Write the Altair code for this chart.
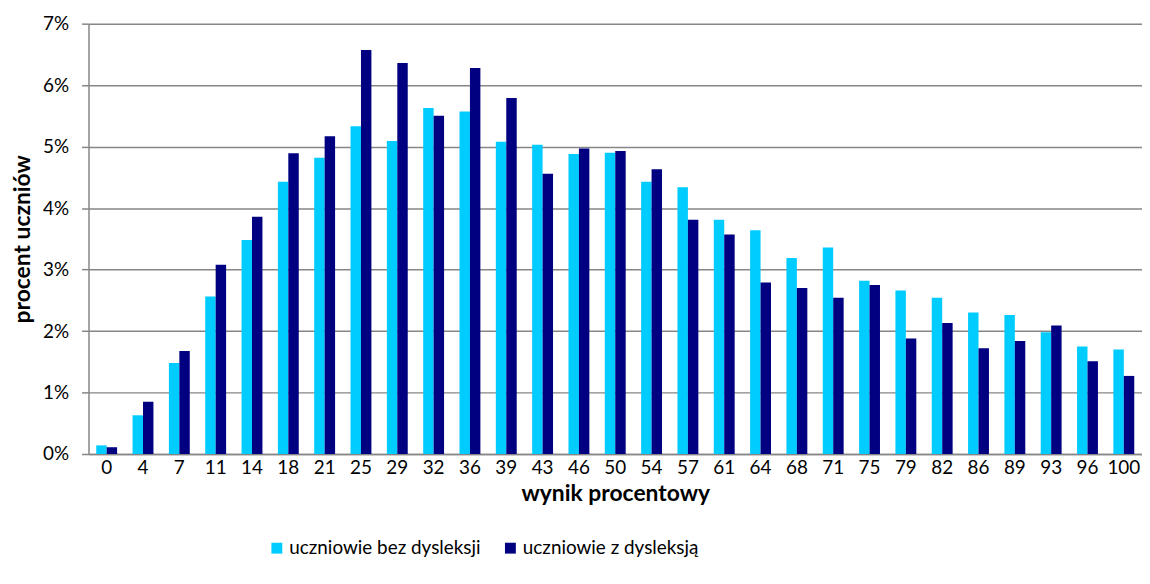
import altair as alt
import pandas as pd

categories = ["0", "4", "7", "11", "14", "18", "21", "25", "29", "32", "36", "39", "43", "46", "50",
              "54", "57", "61", "64", "68", "71", "75", "79", "82", "86", "89", "93", "96", "100"]
bez_dysleksji = [0.14, 0.63, 1.48, 2.56, 3.48, 4.43, 4.82, 5.33, 5.09, 5.63, 5.57, 5.08, 5.03, 4.88, 4.90,
                 4.43, 4.34, 3.81, 3.64, 3.19, 3.36, 2.82, 2.66, 2.54, 2.30, 2.26, 1.98, 1.75, 1.70]
z_dysleksja = [0.11, 0.85, 1.675, 3.08, 3.86, 4.89, 5.17, 6.57, 6.36, 5.50, 6.28, 5.79, 4.56, 4.97, 4.93,
               4.63, 3.81, 3.57, 2.79, 2.70, 2.54, 2.75, 1.88, 2.13, 1.72, 1.84, 2.09, 1.51, 1.27]
series_names = ["uczniowie bez dysleksji", "uczniowie z dysleksją"]
series_colors = ["#00CCFF", "#000080"]
y_ticks = [0, 0.01, 0.02, 0.03, 0.04, 0.05, 0.06, 0.07]

rows = []
for c, a, b in zip(categories, bez_dysleksji, z_dysleksja):
    rows.append({"wynik": c, "seria": series_names[0], "wartosc": a / 100})
    rows.append({"wynik": c, "seria": series_names[1], "wartosc": b / 100})
df = pd.DataFrame(rows)

FONT = "Lato"
GRID = "#868686"

chart = alt.Chart(df).mark_bar().encode(
    x=alt.X("wynik:N", sort=categories,
            scale=alt.Scale(paddingInner=0.425, paddingOuter=0.213),
            axis=alt.Axis(title="wynik procentowy", labelAngle=0, ticks=False,
                          domainColor=GRID, domainWidth=1.5, labelPadding=5,
                          labelFontSize=19, labelColor="#000000", labelFont=FONT,
                          titleFont=FONT, titleFontSize=23, titleFontWeight="bold",
                          titleColor="#000000", titlePadding=5)),
    xOffset=alt.XOffset("seria:N", sort=series_names, scale=alt.Scale(paddingInner=0, paddingOuter=0)),
    y=alt.Y("wartosc:Q",
            scale=alt.Scale(domain=[0, 0.07], nice=False),
            axis=alt.Axis(title="procent uczniów", values=y_ticks, format=".0%",
                          grid=True, gridColor=GRID, gridWidth=1.5,
                          domainColor=GRID, domainWidth=1.5, tickColor=GRID, tickSize=7,
                          tickWidth=1.5, labelPadding=13,
                          labelFontSize=19, labelColor="#000000", labelFont=FONT,
                          titleFont=FONT, titleFontSize=23, titleFontWeight="bold",
                          titleColor="#000000", titlePadding=8)),
    color=alt.Color("seria:N", sort=series_names,
                    scale=alt.Scale(domain=series_names, range=series_colors),
                    legend=alt.Legend(title=None, orient="none", direction="horizontal",
                                      legendX=180, legendY=518,
                                      symbolType="square", symbolSize=120, symbolStrokeWidth=0,
                                      labelFont=FONT, labelFontSize=19, labelColor="#000000",
                                      labelLimit=400, labelOffset=3, columnPadding=20)),
).properties(
    width=1060, height=433,
    autosize=alt.AutoSizeParams(type="none"),
    padding={"left": 81, "top": 14, "right": 0, "bottom": 121},
).configure_view(stroke=None).configure_axis(gridOpacity=1)

chart.save("out.html", embed_options={"renderer": "svg", "actions": False})
